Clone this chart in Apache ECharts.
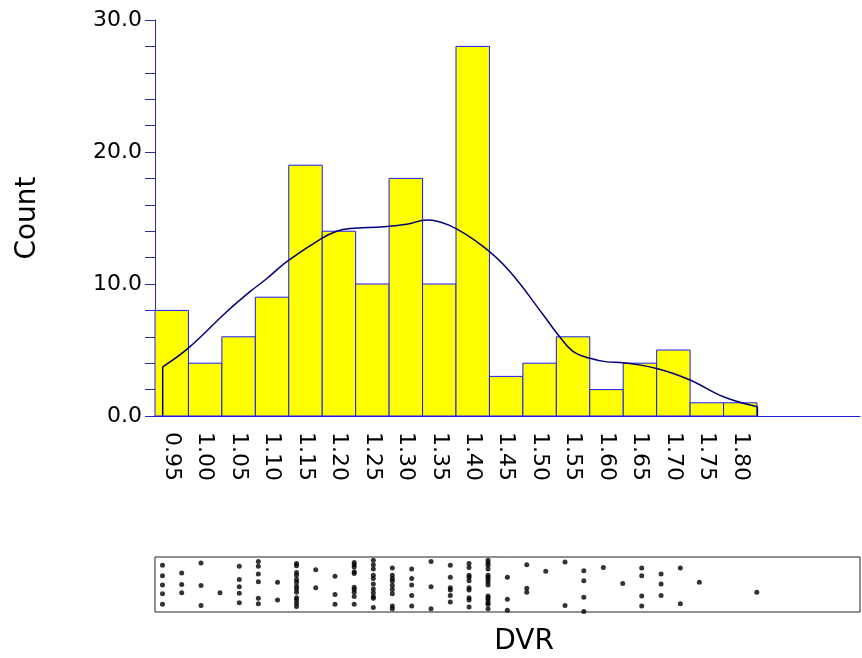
<!DOCTYPE html>
<html>
<head>
<meta charset="utf-8">
<script src="https://cdn.jsdelivr.net/npm/echarts@6/dist/echarts.min.js"></script>
<style>
html,body{margin:0;padding:0;background:#fff;}
#chart{width:862px;height:658px;}
</style>
</head>
<body>
<div id="chart"></div>
<script>
// ---- data ----
const binCenters = [0.95,1.00,1.05,1.10,1.15,1.20,1.25,1.30,1.35,1.40,1.45,1.50,1.55,1.60,1.65,1.70,1.75,1.80];
const counts = [8,4,6,9,19,14,10,18,10,28,3,4,6,2,4,5,1,1];
const binWidth = 0.05;

const curveX = [0.9365,0.9739,1.0322,1.067,1.0919,1.1219,1.1742,1.1967,1.2166,1.2664,1.3013,1.3313,1.3661,1.4159,1.4558,1.5056,1.5306,1.5504,1.5754,1.6004,1.6252,1.6751,1.7249,1.7747,1.8256];
const curveY = [3.73,5.1,7.9,9.42,10.4,11.69,13.46,14.0,14.2,14.34,14.52,14.85,14.42,12.83,10.93,7.65,5.96,4.88,4.37,4.1,4.04,3.6,2.73,1.46,0.7];

const dotCols = [0.9362,0.9649,0.9938,1.0222,1.0510,1.0795,1.1082,1.1366,1.1653,1.1941,1.2228,1.2514,1.2798,1.3088,1.3377,1.3665,1.3945,1.4229,1.4518,1.4808,1.5092,1.5380,1.5661,1.5953,1.6243,1.6527,1.6816,1.7104,1.7388,1.8247];
const dotJitter = [
  [0.85,0.66,0.49,0.33,0.14],
  [0.71,0.50,0.35],
  [0.89,0.48,0.12],
  [0.35],
  [0.83,0.59,0.46,0.34,0.17],
  [0.92,0.83,0.69,0.55,0.25,0.15],
  [0.54,0.22],
  [0.88,0.84,0.72,0.67,0.59,0.54,0.47,0.42,0.36,0.26,0.22,0.16,0.10],
  [0.77,0.44],
  [0.65,0.32,0.14],
  [0.90,0.86,0.82,0.73,0.70,0.45,0.41,0.36,0.28,0.14],
  [0.94,0.86,0.78,0.67,0.61,0.51,0.42,0.35,0.28,0.25,0.08],
  [0.80,0.67,0.61,0.56,0.48,0.41,0.33,0.11,0.06],
  [0.78,0.61,0.49,0.30,0.11],
  [0.92,0.46,0.06],
  [0.85,0.63,0.44,0.40,0.30,0.18],
  [0.88,0.81,0.67,0.63,0.57,0.44,0.40,0.26,0.22,0.09],
  [0.94,0.89,0.85,0.78,0.67,0.63,0.59,0.54,0.49,0.29,0.26,0.22,0.17,0.14,0.06],
  [0.63,0.23,0.03],
  [0.86,0.43,0.36],
  [0.74],
  [0.91,0.12],
  [0.75,0.57,0.27,0.01],
  [0.81],
  [0.52],
  [0.80,0.66,0.29,0.11],
  [0.69,0.51,0.30],
  [0.80,0.15],
  [0.54],
  [0.36]
];

const yTicks = [0,10,20,30];

// ---- build ----
const barData = binCenters.map((c,i)=>[c,counts[i]]);
const curveData = curveX.map((x,i)=>[x,curveY[i]]);
const dotData = [];
dotCols.forEach((x,i)=>dotJitter[i].forEach(j=>dotData.push([x,j])));

const X_MIN = 0.925, X_MAX = 1.979;
const FONT = '"DejaVu Sans", Verdana, sans-serif';

const chart = echarts.init(document.getElementById('chart'), null, {renderer:'canvas'});
chart.setOption({
  animation:false,
  backgroundColor:'#fff',
  grid:[
    {left:155, top:20, width:705, height:396, containLabel:false, outerBoundsMode:'none'},
    {left:155, top:557, width:705, height:55, show:true, borderColor:'#222', borderWidth:1,
     backgroundColor:'transparent', containLabel:false, outerBoundsMode:'none'}
  ],
  xAxis:[
    {type:'value', gridIndex:0, min:X_MIN, max:X_MAX,
     axisLine:{show:true, onZero:false, lineStyle:{color:'#1c1cd0', width:1}},
     axisTick:{show:false},
     splitLine:{show:false},
     axisLabel:{show:true, customValues:binCenters, rotate:-90, margin:16, padding:[6,0,0,0],
       color:'#000', fontSize:22, fontFamily:FONT,
       formatter:v=>Number(v).toFixed(2)}
    },
    {type:'value', gridIndex:1, min:X_MIN, max:X_MAX,
     axisLine:{show:false}, axisTick:{show:false}, axisLabel:{show:false}, splitLine:{show:false}}
  ],
  yAxis:[
    {type:'value', gridIndex:0, min:0, max:30, interval:10,
     axisLine:{show:true, lineStyle:{color:'#2b2ba6', width:1}},
     axisTick:{show:true, length:10, lineStyle:{color:'#2b2ba6'}},
     minorTick:{show:true, splitNumber:5, length:10, lineStyle:{color:'#2b2ba6'}},
     splitLine:{show:false},
     axisLabel:{customValues:yTicks, margin:13, color:'#000', fontSize:22, fontFamily:FONT, formatter:v=>Number(v).toFixed(1)},
     name:'Count', nameLocation:'middle', nameGap:113,
     nameTextStyle:{color:'#000', fontSize:28, fontFamily:FONT}
    },
    {type:'value', gridIndex:1, min:0, max:1,
     axisLine:{show:false}, axisTick:{show:false}, axisLabel:{show:false}, splitLine:{show:false}}
  ],
  graphic:[
    {type:'text', x:524, y:642, z:10,
     style:{text:'DVR', fill:'#000', font:'28px "DejaVu Sans", sans-serif',
            align:'center', verticalAlign:'middle'}}
  ],
  series:[
    {type:'custom', xAxisIndex:0, yAxisIndex:0, data:barData,
     renderItem:(params, api)=>{
       const c = api.value(0), v = api.value(1);
       const p0 = api.coord([c - binWidth/2, v]);
       const p1 = api.coord([c + binWidth/2, 0]);
       return {type:'rect', shape:{x:p0[0], y:p0[1], width:p1[0]-p0[0], height:p1[1]-p0[1]},
               style:{fill:'#ffff00', stroke:'#1a1aff', lineWidth:1}};
     }, z:2},
    {type:'line', xAxisIndex:0, yAxisIndex:0, data:curveData, smooth:0.4, showSymbol:false,
     lineStyle:{color:'#00007a', width:1.5}, z:3},
    {type:'line', xAxisIndex:0, yAxisIndex:0,
     data:[[curveX[0],0],[curveX[0],curveY[0]]], showSymbol:false,
     lineStyle:{color:'#00007a', width:1.5}, z:3},
    {type:'line', xAxisIndex:0, yAxisIndex:0,
     data:[[curveX[curveX.length-1],curveY[curveY.length-1]],[curveX[curveX.length-1],0]], showSymbol:false,
     lineStyle:{color:'#00007a', width:1.5}, z:3},
    {type:'scatter', xAxisIndex:1, yAxisIndex:1, data:dotData, symbol:'circle', symbolSize:5,
     itemStyle:{color:'#000'}}
  ]
});
</script>
</body>
</html>
